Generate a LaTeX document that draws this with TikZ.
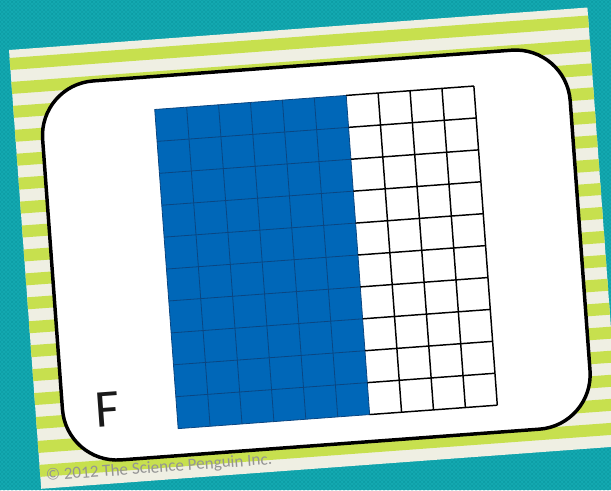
\documentclass[tikz,border=0pt]{standalone}
\usepackage{fontspec}
\newfontfamily\cardfont{Carlito}
\usetikzlibrary{patterns}
\definecolor{tealbg}{RGB}{20,170,178}
\definecolor{tealdark}{RGB}{0,120,128}
\definecolor{cardgreen}{RGB}{199,224,78}
\definecolor{cardcream}{RGB}{239,239,227}
\definecolor{blockblue}{RGB}{0,103,184}
\definecolor{blockline}{RGB}{10,70,130}
\tikzset{
  gridline/.style={color=black, line width=1.1pt},
  blueline/.style={color=blockline, line width=0.6pt}
}
\begin{document}
\begin{tikzpicture}[x=0.75pt,y=0.75pt,yscale=-1,xscale=1]
\useasboundingbox (0,0) rectangle (611,490);

%Shape: Rectangle [background]
\fill [color=tealbg] (0,0) rectangle (611,490);
\fill [pattern=crosshatch, pattern color=tealdark, opacity=0.22] (0,0) rectangle (611,490);

\begin{scope}[shift={(9,50)}, rotate=-4.2]
%Shape: Rectangle [card]
\fill [color=cardcream] (0,0) rectangle (580,440);
%Shape: Stripes
\fill [color=cardgreen] (0,8) rectangle (580,20) (0,32) rectangle (580,44) (0,56) rectangle (580,68)
  (0,80) rectangle (580,92) (0,104) rectangle (580,116) (0,128) rectangle (580,140)
  (0,152) rectangle (580,164) (0,176) rectangle (580,188) (0,200) rectangle (580,212)
  (0,224) rectangle (580,236) (0,248) rectangle (580,260) (0,272) rectangle (580,284)
  (0,296) rectangle (580,308) (0,320) rectangle (580,332) (0,344) rectangle (580,356)
  (0,368) rectangle (580,380) (0,392) rectangle (580,404) (0,416) rectangle (580,428);
%Shape: Rounded Rect [white face]
\draw [line width=2.6pt, fill=white, rounded corners=41pt] (27,37) rectangle (556,417);

%Shape: Rectangle [shaded part]
\fill [color=blockblue] (141,70) rectangle (333,390);
\foreach \i in {173,205,237,269,301}
  \draw [blueline] (\i,70) -- (\i,390);
\foreach \j in {102,134,166,198,230,262,294,326,358}
  \draw [blueline] (141,\j) -- (333,\j);
\draw [blueline] (141,70) rectangle (333,390);

%Shape: Grid [unshaded part]
\foreach \i in {365,397,429}
  \draw [gridline] (\i,70) -- (\i,390);
\foreach \j in {70,102,134,166,198,230,262,294,326,358,390}
  \draw [gridline] (333,\j) -- (461,\j);
\draw [gridline] (461,70) -- (461,390);

% Text Node
\node (letterF) at (72,366) [rotate=4.2, text=black!90, font=\cardfont\fontsize{40}{40}\selectfont] {F};
% Text Node
\node (copyright) at (119,428) [rotate=4.2, text=black!42, font=\cardfont\fontsize{12.8}{13}\selectfont] {© 2012 The Science Penguin Inc.};
\end{scope}

\end{tikzpicture}
\end{document}
